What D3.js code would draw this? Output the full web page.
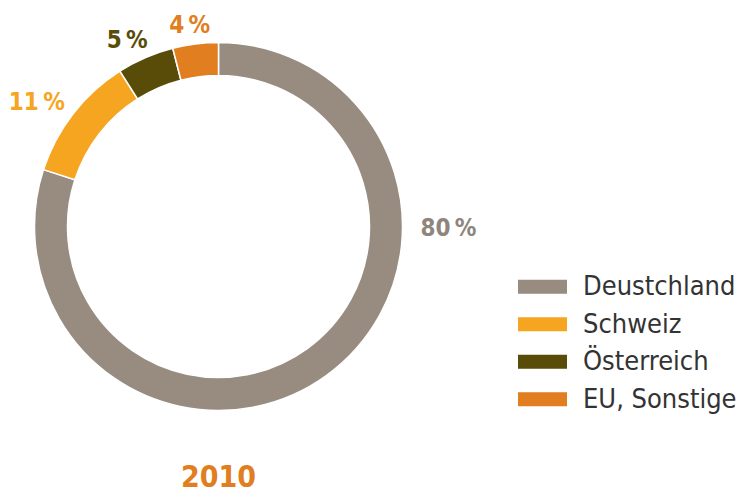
<!DOCTYPE html>
<html>
<head>
<meta charset="utf-8">
<script src="https://cdn.jsdelivr.net/npm/d3@7"></script>
<style>
  body { margin: 0; background: #fff; }
  svg { display: block; }
</style>
</head>
<body>
<div id="chart"></div>
<script>
// data
var categories = ["Deustchland", "Schweiz", "Österreich", "EU, Sonstige"];
var shares = [80, 11, 5, 4];
var colors = ["#978c7f", "#f6a520", "#594c09", "#e07e20"];
var labelColors = ["#8e867c", "#f6a520", "#594c09", "#e07e20"];
var yearLabel = "2010";

var svgWidth = 746;
var svgHeight = 494;

var cx = 218.5, cy = 226.5;
var outerR = 184, innerR = 151;

var svg = d3.select("#chart")
	.append("svg")
	.attr("width", svgWidth)
	.attr("height", svgHeight);

var data = categories.map((c, i) => ({ name: c, value: shares[i], color: colors[i], labelColor: labelColors[i] }));

var pie = d3.pie()
	.value(d => d.value)
	.sort(null);

var arc = d3.arc()
	.innerRadius(innerR)
	.outerRadius(outerR);

var chartGroup = svg.append("g")
	.attr("transform", `translate(${cx}, ${cy})`);

var arcs = pie(data);

chartGroup.selectAll("path")
	.data(arcs)
	.enter()
	.append("path")
	.attr("d", arc)
	.attr("fill", d => d.data.color)
	.attr("stroke", "#fff")
	.attr("stroke-width", 1.5);

// percentage labels outside the ring (the big slice gets its label on the right)
var rx = outerR + 46, ry = outerR + 20;
function labelAngle(d) {
	return d.index === 0 ? Math.PI / 2 : (d.startAngle + d.endAngle) / 2;
}

chartGroup.selectAll("text.pct")
	.data(arcs)
	.enter()
	.append("text")
	.attr("class", "pct")
	.attr("x", d => rx * Math.sin(labelAngle(d)))
	.attr("y", d => -ry * Math.cos(labelAngle(d)) + 9)
	.attr("text-anchor", "middle")
	.attr("fill", d => d.data.labelColor)
	.attr("font-family", "DejaVu Sans Condensed, DejaVu Sans, sans-serif")
	.attr("font-stretch", "condensed")
	.attr("font-weight", "bold")
	.attr("font-size", 24)
	.text(d => d.data.value + "\u2009%");

// legend
var legendY = d3.scaleBand()
	.domain(categories)
	.range([268, 418]);

var legend = svg.append("g").selectAll("g")
	.data(data)
	.enter()
	.append("g")
	.attr("transform", d => `translate(518, ${legendY(d.name)})`);

legend.append("rect")
	.attr("x", 0)
	.attr("y", legendY.bandwidth() / 2 - 7)
	.attr("width", 49)
	.attr("height", 14)
	.attr("fill", d => d.color);

legend.append("text")
	.attr("x", 65)
	.attr("y", legendY.bandwidth() / 2 + 8.5)
	.attr("fill", "#333")
	.attr("font-family", "DejaVu Sans Condensed, DejaVu Sans, sans-serif")
	.attr("font-stretch", "condensed")
	.attr("font-weight", 300)
	.attr("font-size", 27)
	.text(d => d.name);

// year caption
svg.append("text")
	.attr("x", cx)
	.attr("y", 487)
	.attr("text-anchor", "middle")
	.attr("fill", "#e07e20")
	.attr("font-family", "DejaVu Sans Condensed, DejaVu Sans, sans-serif")
	.attr("font-stretch", "condensed")
	.attr("font-weight", "bold")
	.attr("font-size", 30)
	.text(yearLabel);
</script>
</body>
</html>
